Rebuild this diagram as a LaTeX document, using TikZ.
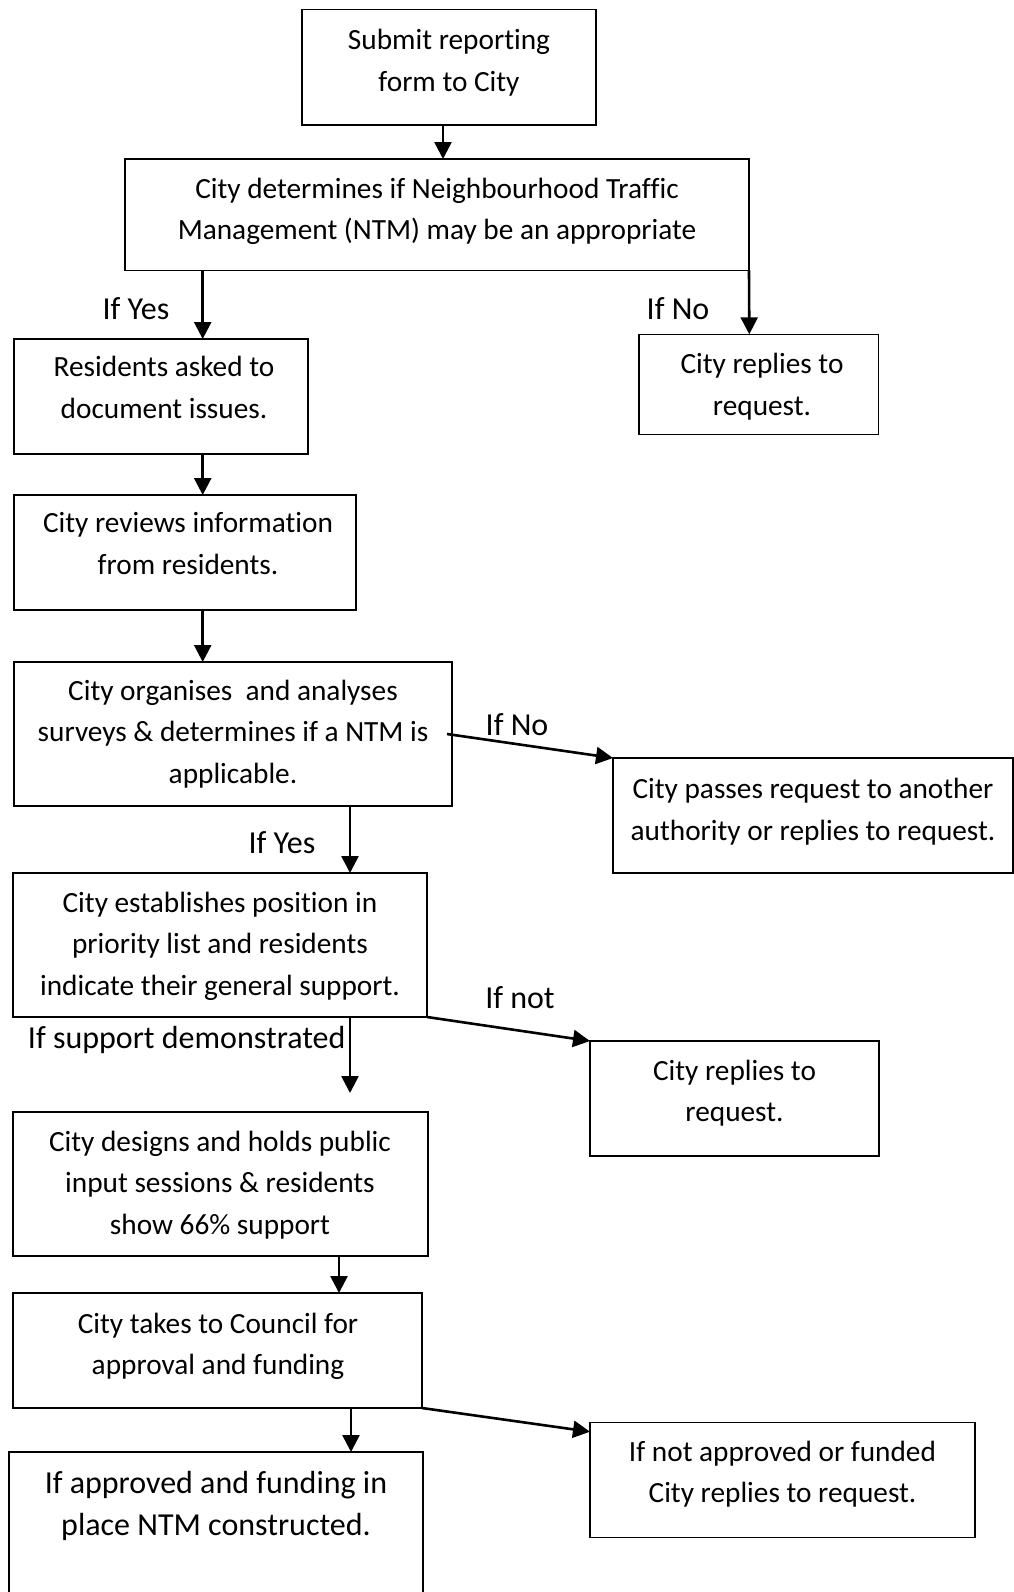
\documentclass[tikz,border=0pt]{standalone}
\usepackage{fontspec}
\setmainfont{Carlito}[Ligatures={NoCommon}]
\usetikzlibrary{arrows.meta}
\begin{document}
\begin{tikzpicture}[x=1pt,y=-1pt,
  box/.style={draw, line width=1.5pt, inner sep=0pt, outer sep=0pt, anchor=north west},
  txt/.style={align=center, inner sep=0pt, anchor=north, font=\fontsize{29.3}{41.6}\selectfont},
  bigtxt/.style={align=center, inner sep=0pt, anchor=north, font=\fontsize{32}{41.7}\selectfont},
  lbl/.style={inner sep=0pt, font=\fontsize{32}{41.6}\selectfont},
  arr/.style={line width=2.6pt, -{Triangle[length=17pt 0 0,width=17pt 0 0]}}]
\clip (0,0) rectangle (1014,1592);
\fill[white] (0,0) rectangle (1014,1592);

% boxes
\node[box, minimum width=294pt, minimum height=115.5pt] (b1) at (302,9.5) {};
\node[box, minimum width=624pt, minimum height=111.5pt] (b2) at (125,159) {};
\node[box, minimum width=294pt, minimum height=115pt] (b3) at (14,339) {};
\node[box, minimum width=239.5pt, minimum height=100pt] (b4) at (639,334.3) {};
\node[box, minimum width=342pt, minimum height=115pt] (b5) at (14,495) {};
\node[box, minimum width=438pt, minimum height=144pt] (b6) at (14,662) {};
\node[box, minimum width=400pt, minimum height=115pt] (b7) at (613,758) {};
\node[box, minimum width=414pt, minimum height=144pt] (b8) at (13,873) {};
\node[box, minimum width=289pt, minimum height=115pt] (b9) at (590,1041) {};
\node[box, minimum width=415pt, minimum height=144pt] (b10) at (13,1112) {};
\node[box, minimum width=409pt, minimum height=115pt] (b11) at (13,1293) {};
\node[box, minimum width=385pt, minimum height=115pt] (b12) at (590,1422.3) {};
\node[box, minimum width=414pt, minimum height=200pt] (b13) at (9,1452) {};

% texts
\node[txt] (t1) at (449,20.5) {\strut Submit reporting\\\strut form to City};
\node[txt] (t2) at (437,169) {\strut City determines if Neighbourhood Traffic\\\strut Management (NTM) may be an appropriate};
\node[txt] (t3) at (164,347.6) {\strut Residents asked to\\\strut document issues.};
\node[txt] (t4) at (762,344.2) {\strut City replies to\\\strut request.};
\node[txt] (t5) at (188,503.6) {\strut City reviews information\\\strut from residents.};
\node[txt] (t6) at (233,670.9) {\strut City organises\ \ and analyses\\\strut surveys \& determines if a NTM is\\\strut applicable.};
\node[txt] (t7) at (813,769.2) {\strut City passes request to another\\\strut authority or replies to request.};
\node[txt] (t8) at (220,882.9) {\strut City establishes position in\\\strut priority list and residents\\\strut indicate their general support.};
\node[txt] (t9) at (734.5,1050.9) {\strut City replies to\\\strut request.};
\node[txt] (t10) at (220,1122) {\strut City designs and holds public\\\strut input sessions \& residents\\\strut show 66\% support};
\node[txt] (t11) at (218,1304) {\strut City takes to Council for\\\strut approval and funding};
\node[txt] (t12) at (782.5,1431.9) {\strut If not approved or funded\\\strut City replies to request.};
\node[bigtxt] (t13) at (216,1464.1) {\strut If approved and funding in\\\strut place NTM constructed.};

% labels
\node[lbl] (l1) at (136,311) {\strut If Yes};
\node[lbl] (l2) at (678,311) {\strut If No};
\node[lbl] (l3) at (517,726.7) {\strut If No};
\node[lbl] (l4) at (282,845) {\strut If Yes};
\node[lbl] (l5) at (520,1000) {\strut If not};
\node[lbl] (l6) at (186.7,1040) {\strut If support demonstrated};

% connectors
\draw[arr] ([xshift=141pt]b1.south west) -- ([xshift=318pt]b2.north west);
\draw[arr] ([xshift=77.7pt]b2.south west) -- ([xshift=188.7pt]b3.north west);
\draw[arr] (b2.south east) -- ([xshift=110.3pt]b4.north west);
\draw[arr] ([xshift=188.7pt]b3.south west) -- ([xshift=188.7pt]b5.north west);
\draw[arr] ([xshift=188.7pt]b5.south west) -- ([xshift=188.7pt]b6.north west);
\draw[arr] ([xshift=-5pt]b6.east) -- (b7.north west);
\draw[arr] ([xshift=336pt]b6.south west) -- ([xshift=337pt]b8.north west);
\draw[arr] (b8.south east) -- (b9.north west);
\draw[arr] ([xshift=337pt]b8.south west) -- ([xshift=337pt,yshift=19pt]b10.north west);
\draw[arr] ([xshift=326pt]b10.south west) -- ([xshift=326pt]b11.north west);
\draw[arr] ([xshift=338pt]b11.south west) -- ([xshift=342pt]b13.north west);
\draw[arr] (b11.south east) -- ([yshift=-9.4pt]b12.north west);
\end{tikzpicture}
\end{document}
